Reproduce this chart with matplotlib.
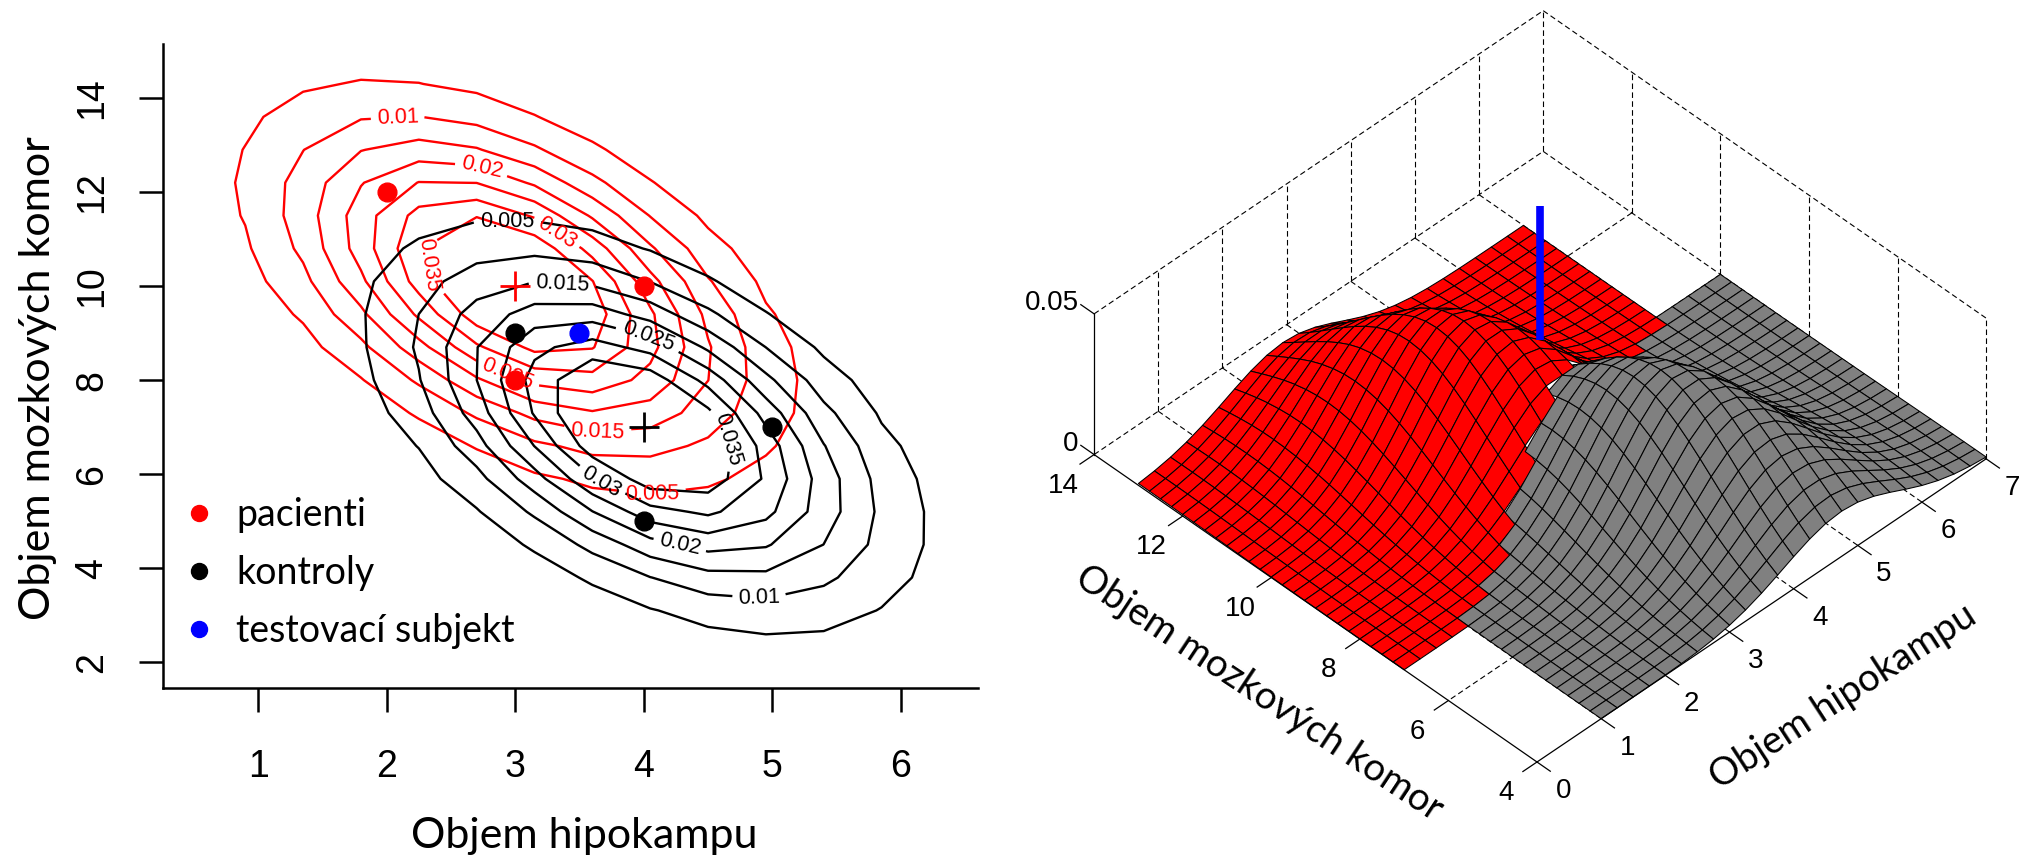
import numpy as np
import matplotlib
matplotlib.use("Agg")
import matplotlib.pyplot as plt
from matplotlib.lines import Line2D
from mpl_toolkits.mplot3d import proj3d
from mpl_toolkits.mplot3d.art3d import Poly3DCollection

# ---- data ----
patients_x = [2, 3, 4]
patients_y = [12, 8, 10]
controls_x = [3, 4, 5]
controls_y = [9, 5, 7]
test_x = [3.5]
test_y = [9]
patients_mean = (3, 10)
controls_mean = (4, 7)
sd_x = 1.03
sd_y = 2.09
rho = -0.5
peak = 0.045
levels = [0.005, 0.01, 0.015, 0.02, 0.025, 0.03, 0.035]
red_label_at = [(4.06, 5.7), (2.09, 13.36), (3.64, 6.93), (2.71, 12.3), (2.95, 8.2), (3.30, 11.04), (2.36, 10.49)]
black_label_at = [(2.94, 11.1), (4.90, 3.45), (3.36, 9.85), (4.28, 4.49), (4.02, 8.74), (3.66, 5.79), (4.55, 6.58)]
x_ticks = [1, 2, 3, 4, 5, 6]
y_ticks = [2, 4, 6, 8, 10, 12, 14]
legend_labels = ["pacienti", "kontroly", "testovací subjekt"]
x3_ticks = [0, 1, 2, 3, 4, 5, 6, 7]
y3_ticks = [4, 6, 8, 10, 12, 14]
z3_ticks = [0, 0.05]
test_bar_z = (0.0415, 0.089)
grid_half = 3.0
grid_cells = 24
xlabel = "Objem hipokampu"
ylabel = "Objem mozkových komor"

W, H = 2031, 861
SANS = "Liberation Sans"
HUM = "Lato"


def density(x, y, mean):
    dx = (x - mean[0]) / sd_x
    dy = (y - mean[1]) / sd_y
    return peak * np.exp(-(dx * dx + dy * dy - 2 * rho * dx * dy) / (2 * (1 - rho * rho)))


fig = plt.figure(figsize=(W / 100, H / 100), dpi=100)

# ---------- left: contours ----------
ax = fig.add_axes([163 / W, 1 - 688 / H, (978 - 163) / W, (688 - 44) / H])
ax.set_xlim(0.26, 6.6)
ax.set_ylim(1.45, 15.15)
gx, gy = np.meshgrid(np.arange(0.0, 7.01, 0.45), np.arange(1.0, 16.01, 0.7))
for mean, col, where in [(patients_mean, "#ff0000", red_label_at), (controls_mean, "black", black_label_at)]:
    Z = density(gx, gy, mean)
    for lev, pt in zip(levels, where):
        cs = ax.contour(gx, gy, Z, levels=[lev], colors=col, linewidths=1.7)
        for lab in ax.clabel(cs, manual=[pt], fmt="%g", fontsize=15.5, inline=True, inline_spacing=3,
                             colors=col):
            lab.set_fontfamily(SANS)
ax.plot(patients_x, patients_y, "o", color="#ff0000", ms=13.5, zorder=5)
ax.plot(controls_x, controls_y, "o", color="black", ms=13.5, zorder=5)
ax.plot(test_x, test_y, "o", color="#0000ff", ms=13.5, zorder=5)
ax.plot(*patients_mean, "+", color="#ff0000", ms=22, mew=2, zorder=5)
ax.plot(*controls_mean, "+", color="black", ms=22, mew=2, zorder=5)
for s in ["top", "right"]:
    ax.spines[s].set_visible(False)
for s in ["left", "bottom"]:
    ax.spines[s].set_linewidth(1.8)
ax.set_xticks(x_ticks)
ax.set_yticks(y_ticks)
ax.tick_params(length=17, width=1.8, labelsize=27)
ax.tick_params(axis="x", pad=27)
ax.tick_params(axis="y", pad=21)
for t in ax.get_xticklabels():
    t.set_fontfamily(SANS)
for t in ax.get_yticklabels():
    t.set_fontfamily(SANS)
    t.set_rotation(90)
    t.set_va("center")
ax.set_xlabel(xlabel, fontfamily=HUM, fontsize=31)
ax.set_ylabel(ylabel, fontfamily=HUM, fontsize=31)
ax.xaxis.set_label_coords((586 + 316) / 2 * 1.295 / 815 - 163 / 815, -0.2)
ax.yaxis.set_label_coords(-0.13, (688 - 292 * 1.295) / 644)
handles = [Line2D([], [], ls="", marker="o", ms=11.5, color=c) for c in ["#ff0000", "black", "#0000ff"]]
ax.legend(handles, legend_labels, loc="lower left", bbox_to_anchor=(0.0, 0.061), frameon=False,
          prop={"family": HUM, "size": 27}, labelspacing=0.58, handletextpad=0.03, borderpad=0,
          borderaxespad=0, handlelength=1.92)

# ---------- right: perspective surface ----------
a3 = fig.add_axes([0.5, 0.0, 0.5, 1.0], projection="3d", proj_type="ortho", computed_zorder=False)
a3.set_xlim(0, 7)
a3.set_ylim(4, 14)
a3.set_zlim(0, 0.05)
a3.set_box_aspect((1, 1, 0.306))
a3.view_init(elev=43.2, azim=-134.6)
a3.set_xticks([])
a3.set_yticks([])
a3.set_zticks([])
a3.set_axis_off()
a3.patch.set_alpha(0)

t = np.linspace(-grid_half, grid_half, grid_cells + 1)
polys, faces = [], []
for mean, other, col in [(patients_mean, controls_mean, "#ff0000"), (controls_mean, patients_mean, "#808080")]:
    X, Y = np.meshgrid(mean[0] + t, mean[1] + t)
    Z = density(X, Y, mean)
    for i in range(grid_cells):
        for j in range(grid_cells):
            xs = [X[i, j], X[i, j + 1], X[i + 1, j + 1], X[i + 1, j]]
            ys = [Y[i, j], Y[i, j + 1], Y[i + 1, j + 1], Y[i + 1, j]]
            zs = [Z[i, j], Z[i, j + 1], Z[i + 1, j + 1], Z[i + 1, j]]
            cx, cy = np.mean(xs), np.mean(ys)
            inside = abs(cx - other[0]) < grid_half and abs(cy - other[1]) < grid_half
            if inside and density(cx, cy, other) > density(cx, cy, mean):
                continue
            polys.append(list(zip(xs, ys, zs)))
            faces.append(col)

dash = dict(color="black", lw=0.8, ls=(0, (5, 3)), clip_on=False, zorder=1)
solid = dict(color="black", lw=0.9, clip_on=False, zorder=4)
zmax = z3_ticks[-1]
# back box (dashed)
a3.plot([0, 7], [14, 14], [0, 0], **dash)
a3.plot([7, 7], [14, 4], [0, 0], **dash)
a3.plot([0, 7], [14, 14], [zmax, zmax], **dash)
a3.plot([7, 7], [14, 4], [zmax, zmax], **dash)
a3.plot([7, 7], [14, 14], [0, zmax], **dash)
a3.plot([7, 7], [4, 4], [0, zmax], **dash)
for v in x3_ticks[1:-1]:
    a3.plot([v, v], [14, 14], [0, zmax], **dash)
    a3.plot([v, v], [14, 4], [0, 0], **dash)
for v in y3_ticks[1:-1]:
    a3.plot([7, 7], [v, v], [0, zmax], **dash)
    a3.plot([7, 0], [v, v], [0, 0], **dash)

coll = Poly3DCollection(polys, facecolors=faces, edgecolors="black", linewidths=0.75, zorder=3)
coll.set_zsort("average")
a3.add_collection3d(coll)
coll.set_clip_on(False)

# front axes (solid)
a3.plot([0, 7], [4, 4], [0, 0], **solid)
a3.plot([0, 0], [4, 14], [0, 0], **solid)
a3.plot([0, 0], [14, 14], [0, zmax], **solid)
tick_texts = []
for v in x3_ticks:
    a3.plot([v, v], [4, 3.7], [0, 0], **solid)
    tick_texts.append((v - 0.124, 3.23, 0, str(v), "center"))
for v in y3_ticks:
    a3.plot([0, -0.22], [v, v], [0, 0], **solid)
    tick_texts.append((-0.6, v - 0.168, 0, str(v), "center"))
for v in z3_ticks:
    a3.plot([0, 0], [14, 14.3], [v, v], **solid)
    tick_texts.append((0, 14.35, v, f"{v:g}", "right"))
a3.plot([test_x[0]] * 2, [test_y[0]] * 2, test_bar_z, color="#0000ff", lw=5.5, solid_capstyle="butt",
        clip_on=False, zorder=6)


def project(xv, yv, zv):
    px, py, _ = proj3d.proj_transform(xv, yv, zv, a3.get_proj())
    return a3.transData.transform((px, py))


# fit the 3D box to its place in the figure
front_target = np.array([1537.0, H - 762.0])
span_target = 892.0
for _ in range(4):
    a3.apply_aspect()
    pos = a3.get_position(original=True)
    pR = project(7, 4, 0)
    pL = project(0, 14, 0)
    s = span_target / (pR[0] - pL[0])
    side = pos.width * W * s
    a3.set_position([pos.x0, pos.y0, side / W, side / H])
    a3.apply_aspect()
    pF = project(0, 4, 0)
    d = front_target - pF
    pos = a3.get_position(original=True)
    a3.set_position([pos.x0 + d[0] / W, pos.y0 + d[1] / H, pos.width, pos.height])
a3.apply_aspect()

# tick labels of the 3D box, placed at their projected positions
for xv, yv, zv, label, align in tick_texts:
    p = project(xv, yv, zv)
    fig.text(p[0] / W, p[1] / H, label, family=SANS, fontsize=20, ha=align, va="center")

fig.text(1259 / W, 1 - 693 / H, ylabel, family=HUM, fontsize=27.5, rotation=-33.5, ha="center", va="center",
         rotation_mode="anchor")
fig.text(1843 / W, 1 - 697 / H, xlabel, family=HUM, fontsize=27.5, rotation=33, ha="center", va="center",
         rotation_mode="anchor")

fig.savefig("out.png", dpi=100)
